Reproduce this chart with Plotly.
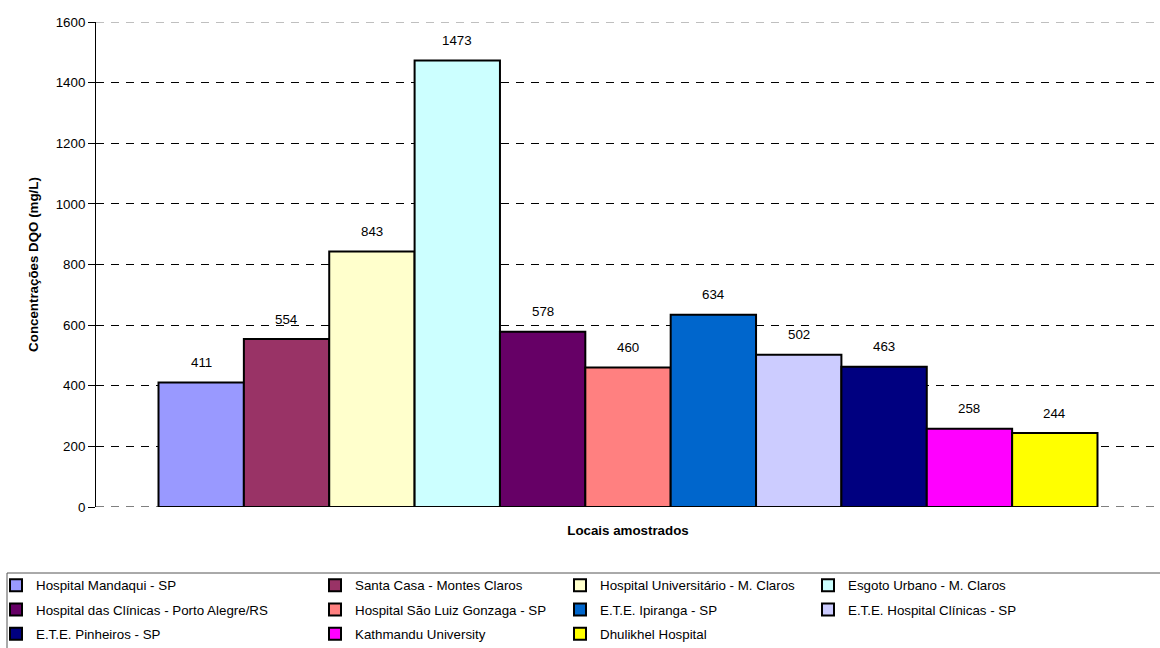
import plotly.graph_objects as go

# ---- data ----
locais = [
    "Hospital Mandaqui - SP",
    "Santa Casa - Montes Claros",
    "Hospital Universitário - M. Claros",
    "Esgoto Urbano - M. Claros",
    "Hospital das Clínicas - Porto Alegre/RS",
    "Hospital São Luiz Gonzaga - SP",
    "E.T.E. Ipiranga - SP",
    "E.T.E. Hospital Clínicas - SP",
    "E.T.E. Pinheiros - SP",
    "Kathmandu University",
    "Dhulikhel Hospital",
]
dqo = [411, 554, 843, 1473, 578, 460, 634, 502, 463, 258, 244]
cores = ["#9999FF", "#993366", "#FFFFCC", "#CCFFFF", "#660066", "#FF8080",
         "#0066CC", "#CCCCFF", "#000080", "#FF00FF", "#FFFF00"]
y_ticks = [0, 200, 400, 600, 800, 1000, 1200, 1400, 1600]
categoria = "Locais amostrados"

# ---- layout constants ----
W, H = 1160, 648
ML, MR, MT, MB = 96, 0, 22, 141
PW, PH = W - ML - MR, H - MT - MB
FONT = "Arial, 'Liberation Sans', sans-serif"
FS = 13.33
BARGAP = 0.1175
N_COLS = 4
DASH = "8px,7px"


def px_x(p):
    return (p - ML) / PW


def px_y(p):
    return (H - MB - p) / PH


fig = go.Figure()
legend_names = ["legend", "legend2", "legend3", "legend4"]
for i, (nome, v, c) in enumerate(zip(locais, dqo, cores)):
    fig.add_trace(go.Bar(
        x=[categoria], y=[v], name=nome,
        marker=dict(color=c, line=dict(color="black", width=2)),
        legend=legend_names[i % N_COLS], legendgroup=nome,
        hovertemplate=nome + ": %{y}<extra></extra>",
    ))

# value labels above bars, placed at each bar's centre on the category scale
n = len(dqo)
bw = (1 - BARGAP) / n
annotations = []
for i, v in enumerate(dqo):
    xc = -(1 - BARGAP) / 2 + (i + 0.5) * bw
    annotations.append(dict(x=xc, y=v, xref="x", yref="y", text=str(v),
                            showarrow=False, yshift=20, yanchor="middle",
                            font=dict(family=FONT, size=FS, color="black")))

leg_common = dict(font=dict(family=FONT, size=FS, color="black"),
                  bgcolor="rgba(0,0,0,0)", borderwidth=0,
                  orientation="v", xanchor="left", yanchor="top",
                  tracegroupgap=4, itemclick=False, itemdoubleclick=False)
leg_text_x = [21, 347, 592, 840]
leg_x = [-4] + [t - 32 for t in leg_text_x[1:]]
legends = {}
for k, name in enumerate(legend_names):
    legends[name] = dict(leg_common, x=px_x(leg_x[k]), y=px_y(570))

fig.update_layout(
    width=W, height=H,
    margin=dict(l=ML, r=MR, t=MT, b=MB, autoexpand=False),
    paper_bgcolor="white", plot_bgcolor="white",
    font=dict(family=FONT, size=FS, color="black"),
    barmode="group", bargap=BARGAP, bargroupgap=0,
    showlegend=True,
    xaxis=dict(type="category", showticklabels=False, ticks="", showline=False,
               showgrid=False, zeroline=False,
               title=dict(text="<b>Locais amostrados</b>", standoff=18,
                          font=dict(family=FONT, size=FS, color="black"))),
    yaxis=dict(range=[0, 1600], tickvals=y_ticks, ticks="outside", ticklen=7,
               tickcolor="black", tickwidth=1, showline=True, linecolor="black",
               linewidth=1, showgrid=True, gridcolor="black", gridwidth=1,
               griddash=DASH, zeroline=False,
               tickfont=dict(family=FONT, size=FS, color="black"),
               title=dict(text="<b>Concentrações DQO (mg/L)</b>", standoff=14,
                          font=dict(family=FONT, size=FS, color="black"))),
    annotations=annotations,
    shapes=[
        # baseline grid line at 0 (plotly drops the grid line at the range end)
        dict(type="line", xref="paper", yref="y", x0=0, x1=1, y0=y_ticks[0], y1=y_ticks[0],
             line=dict(color="black", width=1, dash=DASH), layer="below"),
        # the top grid line is lighter in the reference
        dict(type="line", xref="paper", yref="y", x0=0, x1=1, y0=y_ticks[-1], y1=y_ticks[-1],
             line=dict(color="#808080", width=1, dash=DASH), layer="above"),
        # legend frame
        dict(type="rect", xref="paper", yref="paper",
             x0=px_x(7), x1=px_x(W + 4), y0=px_y(573), y1=px_y(H + 4),
             line=dict(color="#555555", width=1), fillcolor="rgba(0,0,0,0)"),
    ],
    **legends,
)

fig.write_html("out.html")
